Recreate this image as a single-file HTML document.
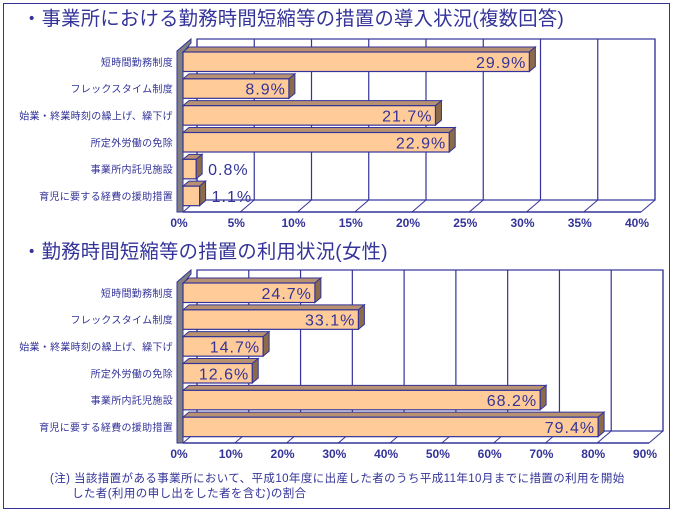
<!DOCTYPE html>
<html><head><meta charset="utf-8"><style>
body{margin:0;background:#fff}
svg{display:block;font-family:"Liberation Sans","Noto Sans CJK JP",sans-serif}
</style></head><body>
<svg id="c" width="674" height="514" viewBox="0 0 674 514" xmlns="http://www.w3.org/2000/svg">
<rect x="3.5" y="3.5" width="666" height="505" fill="#fff" stroke="#333399"/>
<text x="22" y="25" font-size="19.3" fill="#333399" letter-spacing="0.3">・事業所における勤務時間短縮等の措置の導入状況(複数回答)</text>
<text x="22" y="258" font-size="19.3" fill="#333399" letter-spacing="0.3">・勤務時間短縮等の措置の利用状況(女性)</text>
<g id="g1"></g>
<g id="g2"></g>
<text x="50" y="482" font-size="11.5" fill="#333399" letter-spacing="0.4">(注) 当該措置がある事業所において、平成10年度に出産した者のうち平成11年10月までに措置の利用を開始</text>
<text x="72" y="497" font-size="11.5" fill="#333399" letter-spacing="0.4">した者(利用の申し出をした者を含む)の割合</text>
</svg>
<script>
const categories = ["短時間勤務制度","フレックスタイム制度","始業・終業時刻の繰上げ、繰下げ","所定外労働の免除","事業所内託児施設","育児に要する経費の援助措置"];
const values1 = [29.9, 8.9, 21.7, 22.9, 0.8, 1.1];
const values2 = [24.7, 33.1, 14.7, 12.6, 68.2, 79.4];
const ticks1 = [0,5,10,15,20,25,30,35,40];
const ticks2 = [0,10,20,30,40,50,60,70,80,90];

const NS="http://www.w3.org/2000/svg";
function mk(p,t,a){const e=document.createElementNS(NS,t);for(const k in a)e.setAttribute(k,a[k]);p.appendChild(e);return e;}
const NAVY="#333399";
function chart(g, vals, ticks, cfg){
  const max=ticks[ticks.length-1];
  const fx=v=>cfg.x0+(cfg.x1-cfg.x0)*v/max;
  const DX=14, DY=12;
  const bx=v=>fx(v)+DX;
  let e=mk(g,'rect',{x:bx(0),y:cfg.top,width:bx(max)-bx(0),height:cfg.bot-DY-cfg.top,fill:'#fff',stroke:NAVY,'stroke-width':1.2});
  
  ticks.forEach((t,i)=>{
    const l=mk(g,'line',{x1:bx(t),y1:cfg.top,x2:bx(t),y2:cfg.bot-DY,stroke:NAVY,'stroke-width':1.2});
    
    const d=mk(g,'line',{x1:bx(t),y1:cfg.bot-DY,x2:fx(t),y2:cfg.bot,stroke:NAVY,'stroke-width':1});
    
    const tx=mk(g,'text',{x:fx(t)-4,y:cfg.bot+15,'font-size':12,'font-weight':'bold',fill:NAVY,'text-anchor':'middle'});
    tx.textContent=t+'%';
    
  });
  e=mk(g,'polygon',{points:`${cfg.x0-6},${cfg.top+DY} ${cfg.x0-6+DX},${cfg.top} ${cfg.x0-6+DX},${cfg.top+4} ${cfg.x0},${cfg.top+DY+2} ${cfg.x0},${cfg.bot} ${cfg.x0-6},${cfg.bot}`,fill:'#808080',stroke:NAVY,'stroke-width':1});
  
  e=mk(g,'line',{x1:cfg.x0,y1:cfg.bot,x2:fx(max),y2:cfg.bot,stroke:NAVY,'stroke-width':1.5});
  
  const rh=(cfg.bot-cfg.top-DY)/vals.length;
  vals.forEach((v,i)=>{
    const y=cfg.top+DY+i*rh+1, h=19.5;
    const x0=cfg.x0, x1=fx(v)+4, d=6, dy=5;
    const bg=mk(g,'g',{});
    
    mk(bg,'polygon',{points:`${x0},${y} ${x0+d},${y-dy} ${x1+d},${y-dy} ${x1},${y}`,fill:'#b89270',stroke:NAVY,'stroke-width':1});
    mk(bg,'polygon',{points:`${x1},${y} ${x1+d},${y-dy} ${x1+d},${y+h-dy} ${x1},${y+h}`,fill:'#8b6b4a',stroke:NAVY,'stroke-width':1});
    mk(bg,'rect',{x:x0,y:y,width:x1-x0,height:h,fill:'#ffcc99',stroke:NAVY,'stroke-width':1.2});
    const c=mk(g,'text',{x:cfg.x0-10,y:y+h/2+4,'font-size':10,fill:NAVY,'text-anchor':'end','letter-spacing':0.3});
    c.textContent=categories[i];
    
    const inside=(x1-x0)>60;
    const t=mk(g,'text',{x:inside?x1-3:x1+d+6,y:y+h/2+6,'font-size':16,fill:NAVY,'text-anchor':inside?'end':'start','letter-spacing':1});
    t.textContent=v.toFixed(1)+'%';
    
  });
}
chart(document.getElementById('g1'),values1,ticks1,{x0:183,x1:641,top:39,bot:212});
chart(document.getElementById('g2'),values2,ticks2,{x0:183,x1:649,top:270,bot:443});
</script>
</body></html>
